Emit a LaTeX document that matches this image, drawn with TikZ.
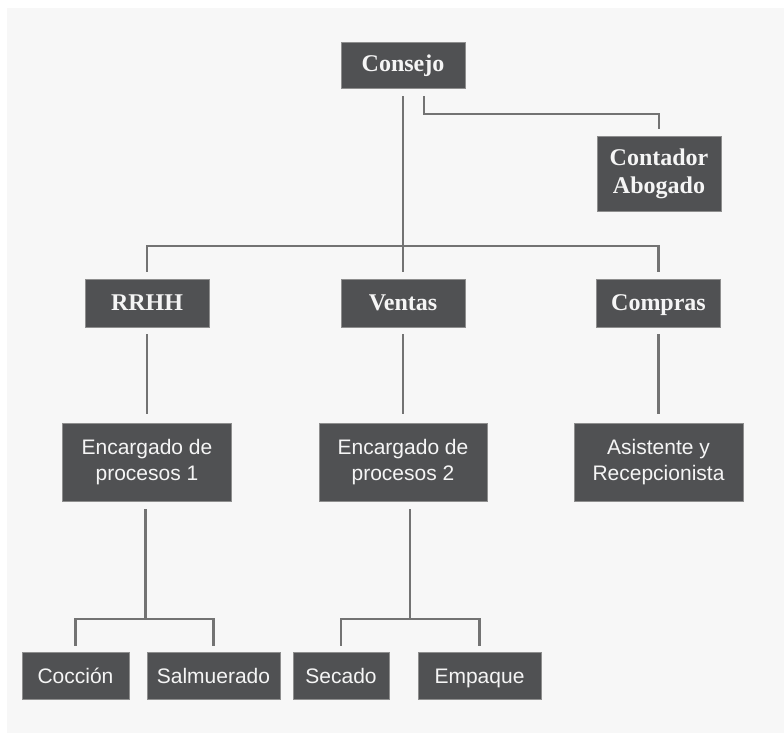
\documentclass[tikz,border=0pt]{standalone}
\usepackage{fontspec}
\usetikzlibrary{calc}
\setmainfont{Liberation Serif}
\newfontfamily\boxsans{Liberation Sans}
\definecolor{colfondo}{HTML}{F7F7F7}
\definecolor{colcaja}{HTML}{505153}
\definecolor{colborde}{HTML}{8E8E8E}
\definecolor{collinea}{HTML}{737373}
\begin{document}
\begin{tikzpicture}[x=1pt,y=-1pt,
  caja/.style={fill=colcaja,draw=colborde,line width=0.8pt,text=white!96!black,inner sep=0pt,align=center},
  tam/.style 2 args={minimum width=#1pt,minimum height=#2pt},
  jefe/.style={caja,font=\fontsize{24}{28}\selectfont\bfseries},
  area/.style={caja,font=\boxsans\fontsize{21}{26}\selectfont},
  uno/.style={text height=16pt,text depth=2pt},
  unos/.style={text height=16pt,text depth=0pt},
  enlace/.style={draw=collinea,line width=2.6pt}]
\useasboundingbox (0,0) rectangle (784,733);
\fill[colfondo] (7,8) rectangle (784,733);
% cajas
\node[jefe,uno,tam={124}{46}] (consejo) at (403,65) {Consejo};
\node[jefe,tam={124}{75}] (contador) at (659,173.5) {Contador\\Abogado};
\node[jefe,uno,tam={124}{48}] (rrhh) at (147,303) {RRHH};
\node[jefe,uno,tam={124}{48}] (ventas) at (403,303) {Ventas};
\node[jefe,uno,tam={124}{48}] (compras) at (658.5,303) {Compras};
\node[area,tam={169}{78}] (enc1) at (147,462) {Encargado de\\procesos 1};
\node[area,tam={168}{78}] (enc2) at (403,462) {Encargado de\\procesos 2};
\node[area,tam={169}{78}] (asist) at (658.5,462) {Asistente y\\Recepcionista};
\node[area,unos,tam={107}{47}] (coccion) at (75.5,675.5) {Cocción};
\node[area,unos,tam={133}{47}] (salmuerado) at (213.5,675.5) {Salmuerado};
\node[area,unos,tam={96}{47}] (secado) at (341,675.5) {Secado};
\node[area,unos,tam={123}{47}] (empaque) at (479.5,675.5) {Empaque};
% uniones
\coordinate (busA) at (403,246);
\coordinate (busB) at (659,114);
\coordinate (busC) at (145.5,619);
\coordinate (busD) at (410,619);
\coordinate (encC) at (busC |- enc1.south);
\coordinate (encD) at (busD |- enc2.south);
% lineas
\draw[enlace] ([yshift=-8pt]consejo.south) -- ([yshift=7pt]ventas.north);
\draw[enlace] ([xshift=21pt,yshift=-8pt]consejo.south) |- (busB) -- ([yshift=7pt]contador.north);
\draw[enlace] ([yshift=7pt]rrhh.north) |- (busA) -| ([yshift=7pt]compras.north);
\draw[enlace] ([yshift=-7pt]rrhh.south) -- ([yshift=9pt]enc1.north);
\draw[enlace] ([yshift=-7pt]ventas.south) -- ([yshift=9pt]enc2.north);
\draw[enlace] ([yshift=-7pt]compras.south) -- ([yshift=9pt]asist.north);
\draw[enlace] ([yshift=-8pt]encC) -- (busC);
\draw[enlace] ([yshift=6pt]coccion.north) |- (busC) -| ([yshift=6pt]salmuerado.north);
\draw[enlace] ([yshift=-8pt]encD) -- (busD);
\draw[enlace] ([yshift=6pt]secado.north) |- (busD) -| ([yshift=6pt]empaque.north);
\end{tikzpicture}
\end{document}
